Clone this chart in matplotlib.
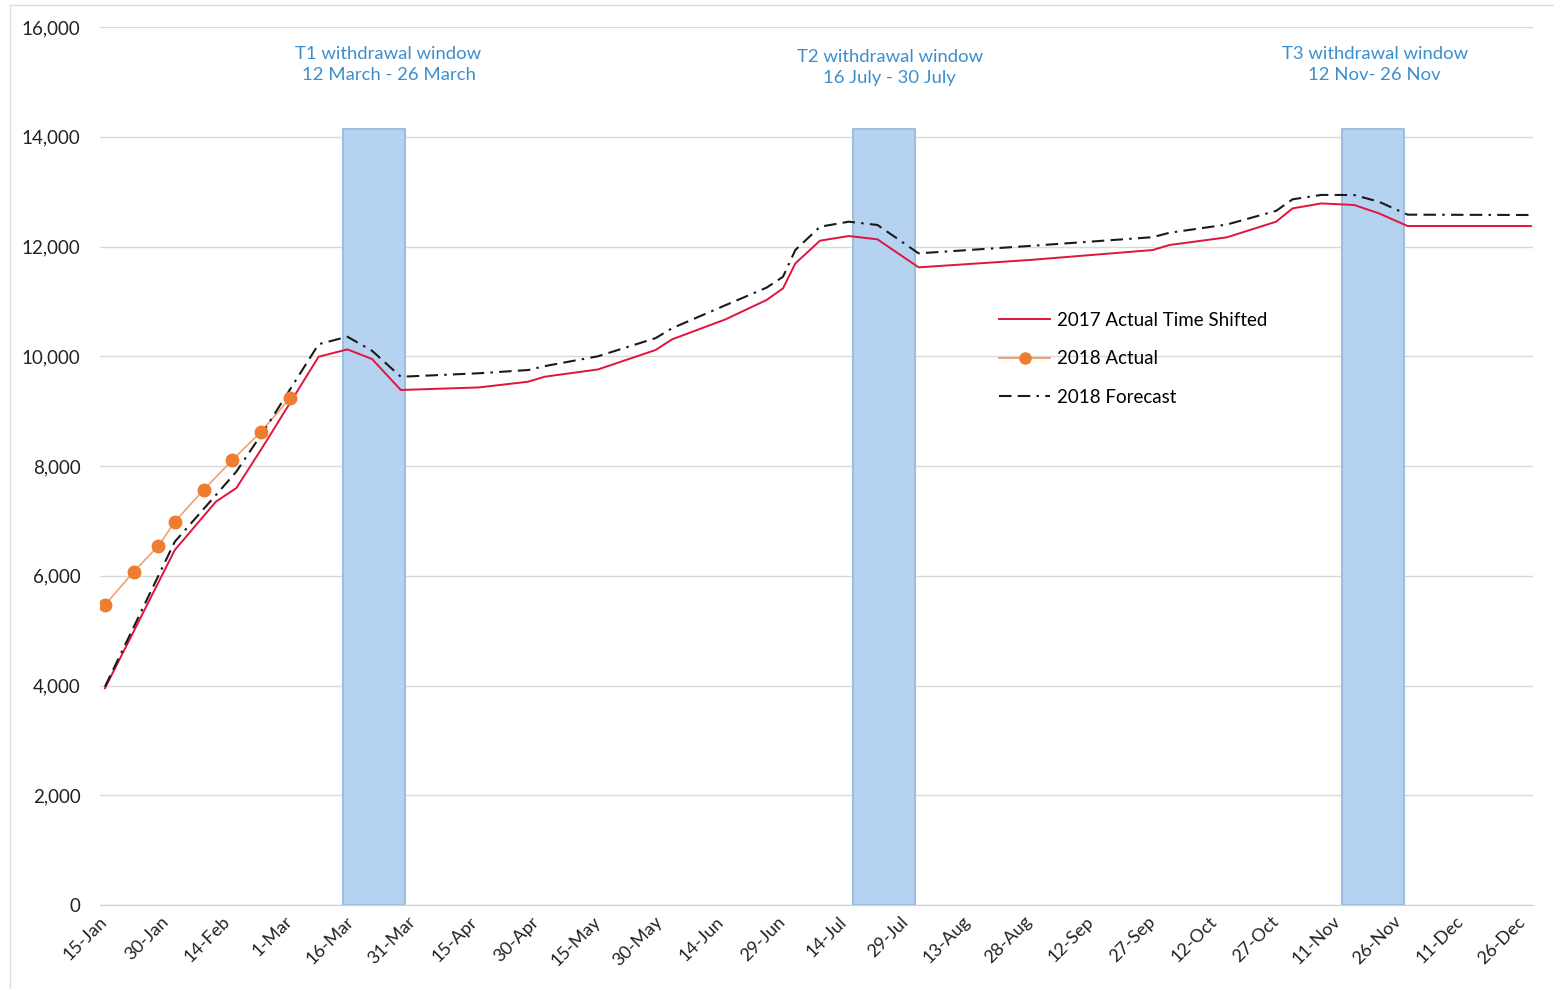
import matplotlib
matplotlib.use("Agg")
import matplotlib.pyplot as plt
import matplotlib.transforms as mtransforms
from matplotlib.ticker import FuncFormatter
from matplotlib.lines import Line2D
import pandas as pd

plt.rcParams['font.family'] = ['Lato', 'DejaVu Sans']

# ---- data ----
line_dates = ["2018-01-15", "2018-02-01", "2018-02-11", "2018-02-16", "2018-02-23",
              "2018-03-08", "2018-03-15", "2018-03-21", "2018-03-28", "2018-04-16",
              "2018-04-28", "2018-05-02", "2018-05-15", "2018-05-29", "2018-06-02",
              "2018-06-15", "2018-06-25", "2018-06-29", "2018-07-02", "2018-07-08",
              "2018-07-15", "2018-07-22", "2018-08-01", "2018-08-28", "2018-09-27",
              "2018-10-01", "2018-10-15", "2018-10-27", "2018-10-31", "2018-11-07",
              "2018-11-15", "2018-11-21", "2018-11-28", "2018-12-28"]
actual_2017_shifted = [3949, 6469, 7350, 7600, 8419,
                       9992, 10125, 9950, 9385, 9432,
                       9536, 9627, 9760, 10114, 10308,
                       10672, 11025, 11237, 11692, 12106,
                       12191, 12130, 11620, 11754, 11936,
                       12027, 12167, 12452, 12695, 12785,
                       12756, 12604, 12373, 12373]
forecast_2018 = [3978, 6620, 7470, 7900, 8680,
                 10220, 10356, 10100, 9626, 9690,
                 9749, 9820, 10000, 10330, 10510,
                 10930, 11250, 11449, 11936, 12360,
                 12452, 12392, 11875, 12010, 12170,
                 12250, 12400, 12650, 12860, 12940,
                 12938, 12816, 12580, 12574]

actual_dates = ["2018-01-15", "2018-01-22", "2018-01-28", "2018-02-01",
                "2018-02-08", "2018-02-15", "2018-02-22", "2018-03-01"]
actual_2018 = [5467, 6074, 6542, 6985, 7563, 8109, 8625, 9234]

windows = [("2018-03-14", "2018-03-29"), ("2018-07-16", "2018-07-31"), ("2018-11-12", "2018-11-27")]
window_labels = ["T1 withdrawal window\n12 March - 26 March",
                 "T2 withdrawal window\n16 July - 30 July",
                 "T3 withdrawal window\n12 Nov- 26 Nov"]
window_label_pos = [("2018-03-25", 15320), ("2018-07-25", 15265), ("2018-11-20", 15320)]
window_top = 14150

tick_dates = pd.date_range("2018-01-15", "2018-12-26", freq="15D")
tick_labels = ["15-Jan", "30-Jan", "14-Feb", "1-Mar", "16-Mar", "31-Mar", "15-Apr", "30-Apr",
               "15-May", "30-May", "14-Jun", "29-Jun", "14-Jul", "29-Jul", "13-Aug", "28-Aug",
               "12-Sep", "27-Sep", "12-Oct", "27-Oct", "11-Nov", "26-Nov", "11-Dec", "26-Dec"]

# ---- figure ----
W, H = 1554, 989
fig = plt.figure(figsize=(W / 100, H / 100), dpi=100)
ax = fig.add_axes([100 / W, (H - 905) / H, (1533 - 100) / W, (905 - 27) / H])

ld = pd.to_datetime(line_dates)
ad = pd.to_datetime(actual_dates)

for (s, e) in windows:
    ax.fill_between([pd.Timestamp(s), pd.Timestamp(e)], 0, window_top,
                    facecolor="#b5d3f1", edgecolor="#9fbde0", linewidth=1.5, zorder=1)

for txt, (xd, yv) in zip(window_labels, window_label_pos):
    ax.text(pd.Timestamp(xd), yv, txt, ha="center", va="center", fontsize=13.3,
            color="#3a8fcc", linespacing=1.4)

ax.plot(ld, actual_2017_shifted, color="#e0143c", lw=1.4, zorder=3)
ax.plot(ad, actual_2018, color="#f4a070", lw=1.2, zorder=4)
ax.plot(ad, actual_2018, ls="none", marker="o", ms=9, color="#ed7d31", zorder=5)
ax.plot(ld, forecast_2018, color="#1a1a1a", lw=1.5, zorder=4,
        dashes=(6, 3, 6, 3, 1.2, 3))

xmin = pd.Timestamp("2018-01-15") - pd.Timedelta(days=1.2)
xmax = pd.Timestamp("2018-01-15") + pd.Timedelta(days=347.5)
ax.set_xlim(xmin, xmax)
ax.set_ylim(0, 16000)
ax.set_yticks(range(0, 16001, 2000))
ax.yaxis.set_major_formatter(FuncFormatter(lambda v, p: f"{int(v):,}"))
ax.set_xticks(tick_dates)
ax.set_xticklabels(tick_labels, rotation=45, ha="right", rotation_mode="anchor")
ax.tick_params(axis="x", length=0, pad=6, labelsize=13, colors="#222222")
ax.tick_params(axis="y", length=0, pad=14, labelsize=13.5, colors="#222222")
shift = mtransforms.ScaledTranslation(-6 / 100, 0, fig.dpi_scale_trans)
for lab in ax.get_xticklabels():
    lab.set_transform(lab.get_transform() + shift)
ax.grid(axis="y", color="#d9d9d9", lw=1)
ax.set_axisbelow(True)
for sp in ["top", "right", "left"]:
    ax.spines[sp].set_visible(False)
ax.spines["bottom"].set_color("#d0d0d0")

handles = [Line2D([], [], color="#e0143c", lw=1.4),
           Line2D([], [], color="#f4a070", lw=1.4, marker="o", ms=8, markerfacecolor="#ed7d31",
                  markeredgecolor="#ed7d31"),
           Line2D([], [], color="#1a1a1a", lw=1.5, dashes=(6, 3, 6, 3, 1.2, 3))]
labels = ["2017 Actual Time Shifted", "2018 Actual", "2018 Forecast"]
fig.legend(handles, labels, loc="upper left", bbox_to_anchor=(982 / W, (H - 295) / H),
           frameon=False, fontsize=13.5, handlelength=2.75, handletextpad=0.35, labelspacing=1.15)

# outer chart border (top and left)
fig.add_artist(Line2D([10 / W, 1], [(H - 5) / H] * 2, color="#dcdcdc", lw=1))
fig.add_artist(Line2D([10 / W] * 2, [0, (H - 5) / H], color="#dcdcdc", lw=1))

fig.savefig("out.png", dpi=100, facecolor="white")
